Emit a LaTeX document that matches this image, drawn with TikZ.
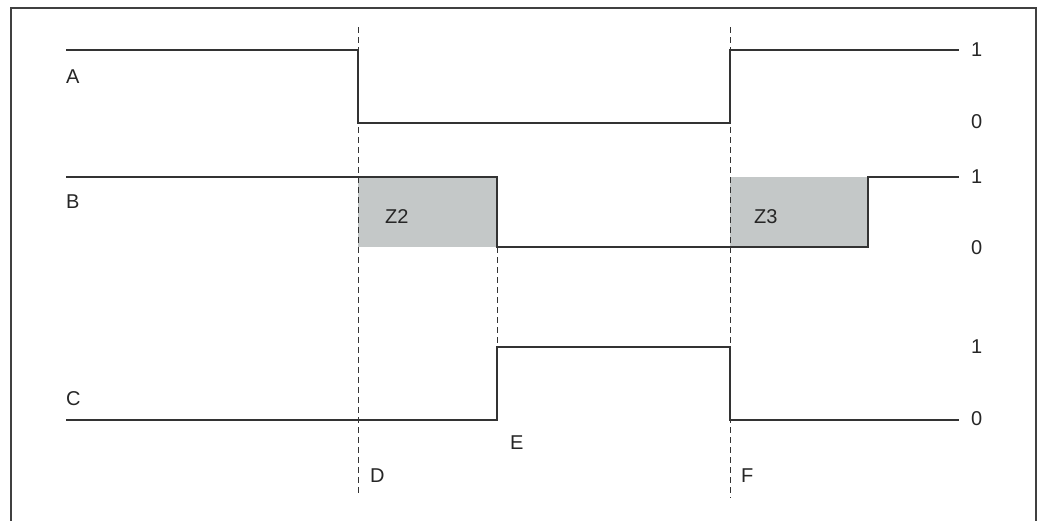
\documentclass[tikz,border=0pt]{standalone}
\usepackage{fontspec}
\setmainfont{Liberation Sans}
\usepackage{tikz}
\usetikzlibrary{positioning}
\definecolor{zonegrey}{RGB}{196,200,200}

\begin{document}
\begin{tikzpicture}[x=1pt, y=-1pt, font=\fontsize{20}{23}\selectfont]
\tikzset{
  sig/.style   ={line width=1.6pt, draw=black!80, line join=miter},
  guide/.style ={line width=1pt, draw=black!80, dash pattern=on 6pt off 4pt},
  zone/.style  ={fill=zonegrey, draw=none},
  lbl/.style   ={inner sep=0pt, text=black!85, anchor=base west},
  lvl/.style   ={inner sep=0pt, text=black!85, anchor=west}
}
\useasboundingbox (0,0) rectangle (1045,520);
\draw[line width=1.2pt, draw=black!75] (11,530) -- (11,8) -- (1036,8) -- (1036,530);
% time marks
\coordinate (tD) at (358,0); \coordinate (tE) at (497,0);
\coordinate (tF) at (730,0); \coordinate (tG) at (868,0);
% grey zones
\fill[zone] (358,177) rectangle (497,247);
\fill[zone] (730,177) rectangle (868,247);
% guides
\draw[guide] (358,27) -- (358,494);
\draw[guide] (730,27) -- (730,498);
\draw[guide] (497,247) -- (497,347);
% signals
\draw[sig] (66,50) -- (358,50) -- (358,123) -- (730,123) -- (730,50) -- (959,50);
\draw[sig] (66,177) -- (497,177) -- (497,247) -- (868,247) -- (868,177) -- (959,177);
\draw[sig] (66,420) -- (497,420) -- (497,347) -- (730,347) -- (730,420) -- (959,420);
% names
\node (nA)[lbl] at (66,83) {A};
\node (nB)[lbl] at (66,208) {B};
\node (nC)[lbl] at (66,405) {C};
\node (z2)[lbl] at (385,223) {Z2};
\node (z3)[lbl] at (754,223) {Z3};
\node (nD)[lbl] at (370,482) {D};
\node (nE)[lbl] at (510,449) {E};
\node (nF)[lbl] at (741,482) {F};
% levels
\node (a1)[lvl] at (971,50) {1};  \node (a0)[lvl] at (971,122) {0};
\node (b1)[lvl] at (971,177) {1}; \node (b0)[lvl] at (971,248) {0};
\node (c1)[lvl] at (971,347) {1}; \node (c0)[lvl] at (971,419) {0};
\end{tikzpicture}
\end{document}
